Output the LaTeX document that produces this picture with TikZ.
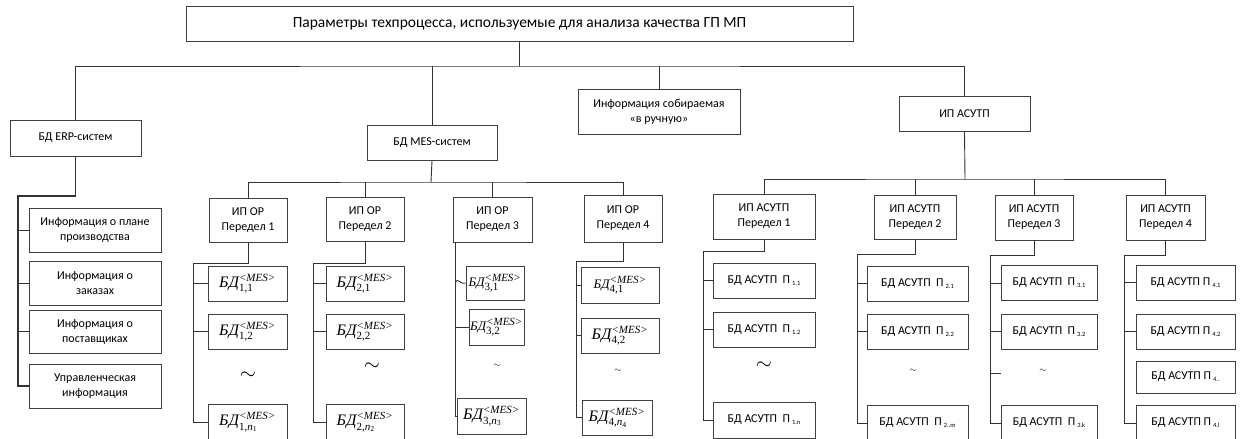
\documentclass[tikz,border=0pt]{standalone}
\usepackage{fontspec}
\setmainfont{Carlito}
\newfontfamily\mesfont{Liberation Serif}
\usetikzlibrary{positioning}

% label of a MES data base: БД^{<MES>}_{i,j}
\newcommand{\bdmes}[1]{$\hbox{\mesfont\itshape БД}^{\hbox{\mesfont\itshape\fontsize{11}{11}\selectfont <MES>}}_{\hbox{\mesfont\fontsize{11}{11}\selectfont #1}}$}
% small index after П
\newcommand{\pidx}[1]{\,\raisebox{-2pt}{\fontsize{6.5}{6.5}\selectfont #1}}

\begin{document}
\begin{tikzpicture}[x=1pt, y=-1pt,
    box/.style={draw=black!75, line width=1pt, rectangle, align=center, inner sep=1pt,
                font=\fontsize{12}{15}\selectfont},
    mesbox/.style={box, font=\fontsize{16}{18}\selectfont},
    ln/.style={draw=black!80, line width=0.9pt},
    bigtl/.style={font=\fontsize{22}{22}\selectfont},
    smalltl/.style={font=\fontsize{9}{9}\selectfont}]
    \useasboundingbox (0,0) rectangle (1240,439);
    \clip (0,0) rectangle (1240,439);

    % upper level
    \node (top) [box, minimum width=667, minimum height=35, font=\fontsize{15.5}{17}\selectfont] at (519.5,23.5)
        {Параметры техпроцесса, используемые для анализа качества ГП МП};
    \node (erp) [box, minimum width=131, minimum height=36] at (75.5,138) {БД ERP-систем};
    \node (mes) [box, minimum width=130, minimum height=35] at (432,142.5) {БД MES-систем};
    \node (info) [box, minimum width=162, minimum height=45] at (659,111.5) {Информация собираемая\\«в ручную»};
    \node (asutp) [box, minimum width=131, minimum height=35] at (964.5,113.5) {ИП АСУТП};

    % ERP data
    \node (e1) [box, minimum width=132, minimum height=44] at (95,230) {Информация о плане\\производства};
    \node (e2) [box, minimum width=132, minimum height=44] at (95,283) {Информация о\\заказах};
    \node (e3) [box, minimum width=132, minimum height=43] at (95,331.5) {Информация о\\поставщиках};
    \node (e4) [box, minimum width=132, minimum height=44] at (95,386) {Управленческая\\информация};

    % MES sections
    \node (or1) [box, minimum width=78, minimum height=44] at (248,220) {ИП ОР\\Передел 1};
    \node (or2) [box, minimum width=78, minimum height=44] at (365,219) {ИП ОР\\Передел 2};
    \node (or3) [box, minimum width=79, minimum height=45] at (492.5,219.5) {ИП ОР\\Передел 3};
    \node (or4) [box, minimum width=78, minimum height=47] at (623,218.5) {ИП ОР\\Передел 4};

    \node (m11) [mesbox, minimum width=79, minimum height=35] at (247.5,283.5) {\bdmes{1,1}};
    \node (m12) [mesbox, minimum width=79, minimum height=35] at (247.5,331.5) {\bdmes{1,2}};
    \node (t1) [bigtl] at (248,376) {$\sim$};
    \node (m1n) [mesbox, minimum width=79, minimum height=36] at (247.5,422) {\bdmes{1,\textit{n}\textsubscript{1}}};

    \node (m21) [mesbox, minimum width=78, minimum height=35] at (365,283.5) {\bdmes{2,1}};
    \node (m22) [mesbox, minimum width=78, minimum height=35] at (365,331.5) {\bdmes{2,2}};
    \node (t2) [bigtl] at (372,367) {$\sim$};
    \node (m2n) [mesbox, minimum width=78, minimum height=36] at (365,422) {\bdmes{2,\textit{n}\textsubscript{2}}};

    \node (m31) [mesbox, minimum width=58, minimum height=34, font=\fontsize{13}{15}\selectfont] at (495,283) {\bdmes{3,1}};
    \node (m32) [mesbox, minimum width=55, minimum height=36, font=\fontsize{13}{15}\selectfont] at (496.5,327) {\bdmes{3,2}};
    \node (t3) [smalltl] at (497,366) {$\sim$};
    \node (m3n) [mesbox, minimum width=69, minimum height=36] at (491.5,416) {\bdmes{3,\textit{n}\textsubscript{3}}};

    \node (m41) [mesbox, minimum width=78, minimum height=36, font=\fontsize{13}{15}\selectfont] at (620,285) {\bdmes{4,1}};
    \node (m42) [mesbox, minimum width=78, minimum height=35] at (620,335.5) {\bdmes{4,2}};
    \node (t4) [smalltl] at (618,371) {$\sim$};
    \node (m4n) [mesbox, minimum width=70, minimum height=35] at (617,417.5) {\bdmes{4,\textit{n}\textsubscript{4}}};

    % ASUTP sections
    \node (a1) [box, minimum width=102, minimum height=45] at (764,216.5) {ИП АСУТП\\Передел 1};
    \node (a2) [box, minimum width=82, minimum height=44] at (915,217) {ИП АСУТП\\Передел 2};
    \node (a3) [box, minimum width=78, minimum height=45] at (1034,217.5) {ИП АСУТП\\Передел 3};
    \node (a4) [box, minimum width=79, minimum height=45] at (1165.5,217.5) {ИП АСУТП\\Передел 4};

    \node (p11) [box, minimum width=102, minimum height=35] at (764,280.5) {БД АСУТП~~П\pidx{1.1}};
    \node (p12) [box, minimum width=102, minimum height=35] at (764,329.5) {БД АСУТП~~П\pidx{1.2}};
    \node (t5) [bigtl] at (764,366) {$\sim$};
    \node (p1n) [box, minimum width=102, minimum height=36] at (764,420) {БД АСУТП~~П\pidx{1.n}};

    \node (p21) [box, minimum width=101, minimum height=35] at (917.5,283.5) {БД АСУТП~~П\pidx{2.1}};
    \node (p22) [box, minimum width=101, minimum height=35] at (917.5,331.5) {БД АСУТП~~П\pidx{2.2}};
    \node (t6) [smalltl] at (913,371) {$\sim$};
    \node (p2m) [box, minimum width=101, minimum height=36] at (917.5,423) {БД АСУТП~~П\pidx{2..m}};

    \node (p31) [box, minimum width=96, minimum height=35] at (1049,283) {БД АСУТП~~П\pidx{3.1}};
    \node (p32) [box, minimum width=96, minimum height=35] at (1049,331.5) {БД АСУТП~~П\pidx{3.2}};
    \node (t7) [smalltl] at (1043,371) {$\sim$};
    \node (p3k) [box, minimum width=96, minimum height=36] at (1049,423) {БД АСУТП~~П\pidx{3.k}};

    \node (p41) [box, minimum width=99, minimum height=35] at (1185.5,282.5) {БД АСУТП П\pidx{4.1}};
    \node (p42) [box, minimum width=99, minimum height=35] at (1185.5,331.5) {БД АСУТП П\pidx{4.2}};
    \node (p4x) [box, minimum width=99, minimum height=32] at (1185.5,377) {БД АСУТП П\pidx{4..}};
    \node (p4l) [box, minimum width=99, minimum height=36] at (1185.5,423) {БД АСУТП П\pidx{4.l}};

    % upper connectors
    \coordinate (tb) at (519.5,66);
    \draw[ln] (top.south) -- (tb);
    \draw[ln] (erp.north) |- (tb) -| (asutp.north);
    \draw[ln] (mes.north) -- (mes.north |- tb);
    \draw[ln] (info.north) -- (info.north |- tb);

    % ERP connectors
    \coordinate (eb) at (18,196);
    \draw[ln, line width=1.8pt] (erp.south) |- (eb) |- (e4.west);
    \draw[ln] (e1.west) -- (e1.west -| eb);
    \draw[ln] (e2.west) -- (e2.west -| eb);
    \draw[ln] (e3.west) -- (e3.west -| eb);

    % MES connectors
    \coordinate (mb) at (431,182);
    \draw[ln] (mes.south) -- (mb);
    \draw[ln] (or1.north) |- (mb) -| (or4.north);
    \draw[ln] (or2.north) -- (or2.north |- mb);
    \draw[ln] (or3.north) -- (or3.north |- mb);

    \coordinate (c1) at (193,263);
    \draw[ln] (or1.south) |- (c1) |- (m1n.west);
    \draw[ln] (m11.west) -- (m11.west -| c1);
    \draw[ln] (m12.west) -- (m12.west -| c1);

    \coordinate (c2) at (313,263);
    \draw[ln] (or2.south) |- (c2) |- (m2n.west);
    \draw[ln] (m21.west) -- (m21.west -| c2);
    \draw[ln] (m22.west) -- (m22.west -| c2);

    \coordinate (c3) at ([xshift=3pt]or3.south west);
    \draw[ln] (c3) |- (m3n.west);
    \draw[ln] (m31.west -| c3) .. controls +(2,-7) and +(-4,3) .. (m31.west);
    \draw[ln] (m32.west) -- (m32.west -| c3);

    \coordinate (c4) at (576,261);
    \draw[ln] (or4.south) |- (c4) |- (m4n.west);
    \draw[ln] (m41.west) -- (m41.west -| c4);
    \draw[ln] (m42.west) -- (m42.west -| c4);

    % ASUTP connectors
    \coordinate (ab) at (965,179);
    \draw[ln] (asutp.south) -- (ab);
    \draw[ln] (a1.north) |- (ab) -| (a4.north);
    \draw[ln] (a2.north) -- (a2.north |- ab);
    \draw[ln] (a3.north) -- (a3.north |- ab);

    \coordinate (d1) at (703,251);
    \draw[ln] (a1.south) |- (d1) |- (p1n.west);
    \draw[ln] (p11.west) -- (p11.west -| d1);
    \draw[ln] (p12.west) -- (p12.west -| d1);

    \coordinate (d2) at (857,254);
    \draw[ln] (a2.south) |- (d2) |- (p2m.west);
    \draw[ln] (p21.west) -- (p21.west -| d2);
    \draw[ln] (p22.west) -- (p22.west -| d2);

    \coordinate (d3) at (990,255);
    \coordinate (k3) at (1001,373);
    \draw[ln] (a3.south) |- (d3) |- (p3k.west);
    \draw[ln] (p31.west) -- (p31.west -| d3);
    \draw[ln] (p32.west) -- (p32.west -| d3);
    \draw[ln] (k3) -- (k3 -| d3);

    \coordinate (d4) at (1124,255);
    \draw[ln] (a4.south) |- (d4) |- (p4l.west);
    \draw[ln] (p41.west) -- (p41.west -| d4);
    \draw[ln] (p42.west) -- (p42.west -| d4);
\end{tikzpicture}
\end{document}
